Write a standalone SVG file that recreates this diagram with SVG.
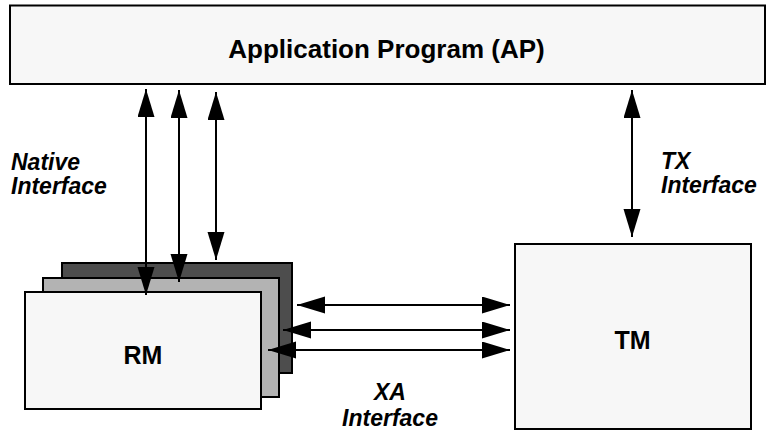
<svg xmlns="http://www.w3.org/2000/svg" width="768" height="431" viewBox="0 0 768 431">
<style>
.box{stroke:#000;stroke-width:2}
.light{fill:#f7f7f7}
.mid{fill:#b3b3b3}
.dark{fill:#4d4d4d}
.title{font-family:"Liberation Sans",Arial,sans-serif;font-weight:bold;fill:#000}
.lbl{font-family:"Liberation Sans",Arial,sans-serif;font-weight:bold;font-style:italic;font-size:23px;fill:#000}
.conn{stroke:#000;stroke-width:2;fill:none;marker-start:url(#ah);marker-end:url(#ah)}
</style>
<defs>
<marker id="ah" markerUnits="userSpaceOnUse" markerWidth="30" markerHeight="18" refX="28" refY="8.5" orient="auto-start-reverse" viewBox="0 0 30 18">
<path d="M0,0 L28,8.5 L0,17 z" fill="#000"/>
</marker>
</defs>
<rect width="768" height="431" fill="#fff"/>
<g id="ap">
<rect class="box light" x="10" y="5.5" width="755" height="78.5"/>
<text class="title" x="386.5" y="58" font-size="26" text-anchor="middle">Application Program (AP)</text>
</g>
<g id="rm">
<rect class="box dark" x="62" y="263" width="230" height="110"/>
<rect class="box mid" x="43" y="278" width="236" height="119"/>
<rect class="box light" x="25" y="292" width="236" height="117"/>
<text class="title" x="143" y="364" font-size="25" text-anchor="middle">RM</text>
</g>
<g id="tm">
<rect class="box light" x="515" y="244" width="236" height="185"/>
<text class="title" x="632.5" y="349" font-size="25" text-anchor="middle">TM</text>
</g>
<g id="connectors">
<line class="conn" x1="146" y1="89" x2="146" y2="295"/>
<line class="conn" x1="179" y1="90" x2="179" y2="282"/>
<line class="conn" x1="216" y1="92" x2="216" y2="260"/>
<line class="conn" x1="632" y1="90" x2="632" y2="237"/>
<line class="conn" x1="297" y1="305" x2="510" y2="305"/>
<line class="conn" x1="283" y1="330" x2="510" y2="330"/>
<line class="conn" x1="268" y1="350" x2="510" y2="350"/>
</g>
<g id="labels">
<text class="lbl" x="11" y="170">Native</text>
<text class="lbl" x="11" y="194">Interface</text>
<text class="lbl" x="661" y="169">TX</text>
<text class="lbl" x="661" y="193">Interface</text>
<text class="lbl" x="390" y="400" text-anchor="middle">XA</text>
<text class="lbl" x="390" y="426" text-anchor="middle">Interface</text>
</g>
</svg>
